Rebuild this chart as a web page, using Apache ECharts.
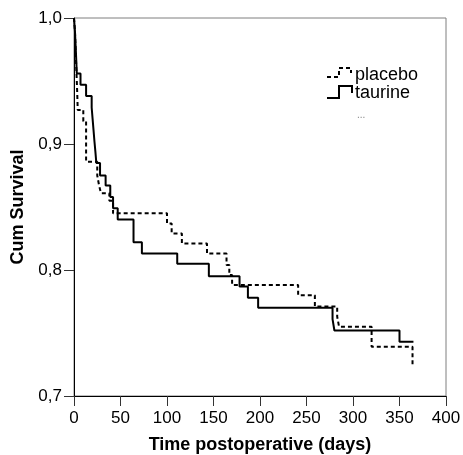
<!DOCTYPE html>
<html>
<head>
<meta charset="utf-8">
<script src="https://cdn.jsdelivr.net/npm/echarts@6/dist/echarts.min.js"></script>
<style>
  html, body { margin: 0; padding: 0; background: #fff; }
  #chart { width: 463px; height: 455px; }
</style>
</head>
<body>
<div id="chart"></div>
<script>
// ---- data ----
const placeboDays = [0, 1, 1.5, 2, 2.5, 3, 3.5, 4, 10, 13, 25, 27, 29, 38, 42, 100, 105, 116, 143, 164, 167, 170, 241, 259, 283, 285, 320, 364];
const placeboSurv = [1.0, 0.99, 0.98, 0.97, 0.96, 0.95, 0.94, 0.927, 0.918, 0.886, 0.875, 0.867, 0.861, 0.855, 0.845, 0.837, 0.829, 0.821, 0.813, 0.804, 0.796, 0.788, 0.780, 0.771, 0.763, 0.755, 0.739, 0.724];

const taurineDays = [0, 1, 1.5, 2, 2.5, 3, 7, 13, 19, 20, 21, 22, 23, 24, 28, 34, 39, 42, 47, 64, 73, 111, 145, 178, 187, 198, 278, 280, 350, 365];
const taurineSurv = [1.0, 0.99, 0.982, 0.974, 0.965, 0.956, 0.947, 0.938, 0.929, 0.920, 0.911, 0.902, 0.894, 0.885, 0.875, 0.867, 0.858, 0.849, 0.840, 0.822, 0.813, 0.805, 0.795, 0.787, 0.778, 0.770, 0.761, 0.752, 0.743, 0.743];

const xTickLabels = ['0', '50', '100', '150', '200', '250', '300', '350', '400'];
const yTickLabels = ['0,7', '0,8', '0,9', '1,0'];

const seriesNames = ['placebo', 'taurine'];
const xTitle = 'Time postoperative (days)';
const yTitle = 'Cum Survival';

// ---- chart ----
const FONT = '"Liberation Sans", Arial, sans-serif';
const chart = echarts.init(document.getElementById('chart'), null, { renderer: 'canvas' });

function pairs(xs, ys) { return xs.map((x, i) => [x, ys[i]]); }

const option = {
  animation: false,
  backgroundColor: '#fff',
  grid: {
    left: 74, right: 17, top: 18, bottom: 59,
    containLabel: false, outerBoundsMode: 'none',
    show: true, borderColor: '#7f7f7f', borderWidth: 1, backgroundColor: 'transparent'
  },
  xAxis: {
    type: 'value', min: 0, max: 400, interval: 50,
    name: xTitle, nameLocation: 'middle', nameGap: 40,
    nameTextStyle: { fontFamily: FONT, fontSize: 18, fontWeight: 'bold', color: '#000' },
    axisLine: { show: true, lineStyle: { color: '#000', width: 1 } },
    axisTick: { show: true, length: 10, lineStyle: { color: '#333' } },
    axisLabel: {
      margin: 14, fontFamily: FONT, fontSize: 17, color: '#000',
      formatter: v => xTickLabels[Math.round(v / 50)]
    },
    splitLine: { show: false }
  },
  yAxis: {
    type: 'value', min: 0.7, max: 1.0, interval: 0.1,
    name: yTitle, nameLocation: 'middle', nameGap: 47,
    nameTextStyle: { fontFamily: FONT, fontSize: 18, fontWeight: 'bold', color: '#000' },
    axisLine: { show: true, lineStyle: { color: '#000', width: 1 } },
    axisTick: { show: true, length: 10, lineStyle: { color: '#333' } },
    axisLabel: {
      margin: 12, fontFamily: FONT, fontSize: 17, color: '#000',
      formatter: v => yTickLabels[Math.round((v - 0.7) / 0.1)]
    },
    splitLine: { show: false }
  },
  series: [
    {
      name: seriesNames[0], type: 'line', step: 'end', showSymbol: false,
      data: pairs(placeboDays, placeboSurv),
      lineStyle: { color: '#000', width: 2, type: [4, 3] }
    },
    {
      name: seriesNames[1], type: 'line', step: 'end', showSymbol: false,
      data: pairs(taurineDays, taurineSurv),
      lineStyle: { color: '#000', width: 2, type: 'solid' }
    }
  ],
  graphic: [
    { type: 'polyline', shape: { points: [[327, 77], [339, 77], [339, 68], [351, 68], [351, 73]] },
      style: { stroke: '#000', lineWidth: 2, fill: null, lineDash: [4, 3] } },
    { type: 'text', left: 355, top: 66,
      style: { text: seriesNames[0], font: '18px ' + FONT, fill: '#000' } },
    { type: 'polyline', shape: { points: [[327, 98], [339, 98], [339, 86], [352, 86], [352, 93]] },
      style: { stroke: '#000', lineWidth: 2, fill: null } },
    { type: 'text', left: 355, top: 84,
      style: { text: seriesNames[1], font: '18px ' + FONT, fill: '#000' } },
    { type: 'text', left: 357, top: 110,
      style: { text: '...', font: '10px ' + FONT, fill: '#888' } }
  ]
};
chart.setOption(option);
</script>
</body>
</html>
